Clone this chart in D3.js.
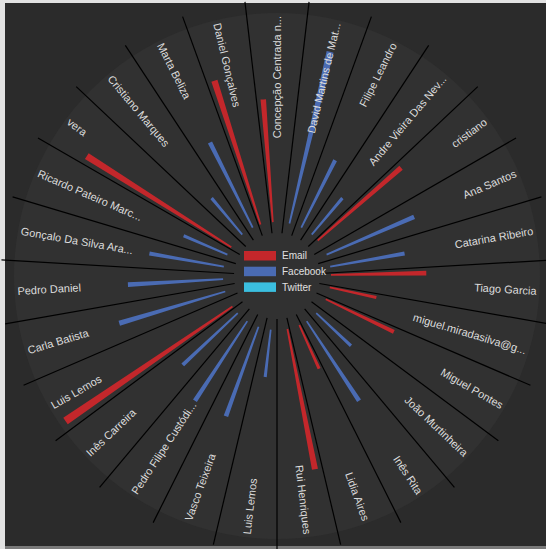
<!DOCTYPE html>
<html><head><meta charset="utf-8">
<script src="https://cdn.jsdelivr.net/npm/d3@7/dist/d3.min.js"></script>
<style>html,body{margin:0;padding:0;background:#e2e2e2;overflow:hidden}svg{display:block}</style>
</head><body>
<svg id="chart" width="546" height="549"></svg>
<script>
const names = ["Concepção Centrada n...","David Martins de Mat...","Filipe Leandro","Andre Vieira Das Nev...","cristiano","Ana Santos","Catarina Ribeiro","Tiago Garcia","miguel.miradasilva@g...","Miguel Pontes","João Murtinheira","Inês Rita","Lidia Aires","Rui Henriques","Luis Lemos","Vasco Teixeira","Pedro Filipe Custódi...","Inês Carreira","Luis Lemos","Carla Batista","Pedro Daniel","Gonçalo Da Silva Ara...","Ricardo Pateiro Marc...","vera","Cristiano Marques","Marta Beliza","Daniel Gonçalves"];
const email    = [6,0,0,0,5,0,0,4,2,3,0,0,2,8,0,0,0,0,19,0,0,0,0,12,0,0,9];
const facebook = [0,13,3,2,0,4,3,0,0,0,2,4,0,0,2,4,4,3,0,5,4,3,2,0,2,4,0];
const twitter  = [0,0,0,0,0,0,0,0,0,0,0,0,0,0,0,0,0,0,0,0,0,0,0,0,0,0,0];
const seriesNames = ["Email","Facebook","Twitter"];
const seriesColors = ["#c3272b","#4a6bb3","#3bbfe0"];

const W = 546, H = 549, cx = 277, cy = 276;
const svg = d3.select("#chart");
svg.append("rect").attr("x",0).attr("y",0).attr("width",W).attr("height",H).attr("fill","#e2e2e2");
svg.append("rect").attr("x",5).attr("y",3).attr("width",W-5).attr("height",543).attr("fill","#2b2b2b");
svg.append("rect").attr("x",5).attr("y",546).attr("width",W-5).attr("height",3).attr("fill","#7a7a7a");

const g = svg.append("g").attr("transform",`translate(${cx},${cy})`);
const n = names.length;
const step = 2*Math.PI/n;
const x = d3.scaleBand().domain(d3.range(n)).range([-step/2, 2*Math.PI - step/2]);
const xs = d3.scaleBand().domain(seriesNames).range([0, x.bandwidth()]).paddingInner(0.6).paddingOuter(0.3);
const y = d3.scaleLog().domain([1,20]).range([54,260]);

g.append("circle").attr("r",263).attr("fill","#313131");

const data = [];
names.forEach((nm,i)=>{
  [email[i],facebook[i],twitter[i]].forEach((v,k)=>{
    if (v>0) data.push({i, key: seriesNames[k], v, color: seriesColors[k]});
  });
});
const arc = d3.arc()
  .innerRadius(y(1))
  .outerRadius(d=>y(d.v))
  .startAngle(d=>x(d.i)+xs(d.key))
  .endAngle(d=>x(d.i)+xs(d.key)+xs.bandwidth());
g.append("g").selectAll("path").data(data).join("path")
  .attr("d",arc).attr("fill",d=>d.color);

// sector dividers
g.append("g").selectAll("line").data(d3.range(n)).join("line")
  .attr("x1",i=>d3.pointRadial(x(i),43)[0]).attr("y1",i=>d3.pointRadial(x(i),43)[1])
  .attr("x2",i=>d3.pointRadial(x(i),276)[0]).attr("y2",i=>d3.pointRadial(x(i),276)[1])
  .attr("stroke","#000").attr("stroke-width",1.2);

// labels
const lab = g.append("g").selectAll("text").data(names).join("text")
  .attr("transform",(d,i)=>{
    const a = (x(i)+x.bandwidth()/2)*180/Math.PI;
    const right = a < 180;
    return `rotate(${a-90}) translate(260,0)` + (right ? "" : " rotate(180)");
  })
  .attr("text-anchor",(d,i)=>((x(i)+x.bandwidth()/2)*180/Math.PI < 180 ? "end" : "start"))
  .attr("dy","0.35em")
  .attr("fill","#dcdcdc")
  .attr("font-family","Liberation Sans, Arial, sans-serif")
  .attr("font-size","11px")
  .text(d=>d);

// legend
const lg = g.append("g").attr("transform","translate(-33,-25)");
seriesNames.forEach((s,k)=>{
  const row = lg.append("g").attr("transform",`translate(0,${k*15.7})`);
  row.append("rect").attr("width",32).attr("height",9.5).attr("fill",seriesColors[k]);
  row.append("text").attr("x",38).attr("y",4.8).attr("dy","0.35em")
    .attr("fill","#e0e0e0").attr("font-family","Liberation Sans, Arial, sans-serif")
    .attr("font-size","10px").text(s);
});
</script>
</body></html>
